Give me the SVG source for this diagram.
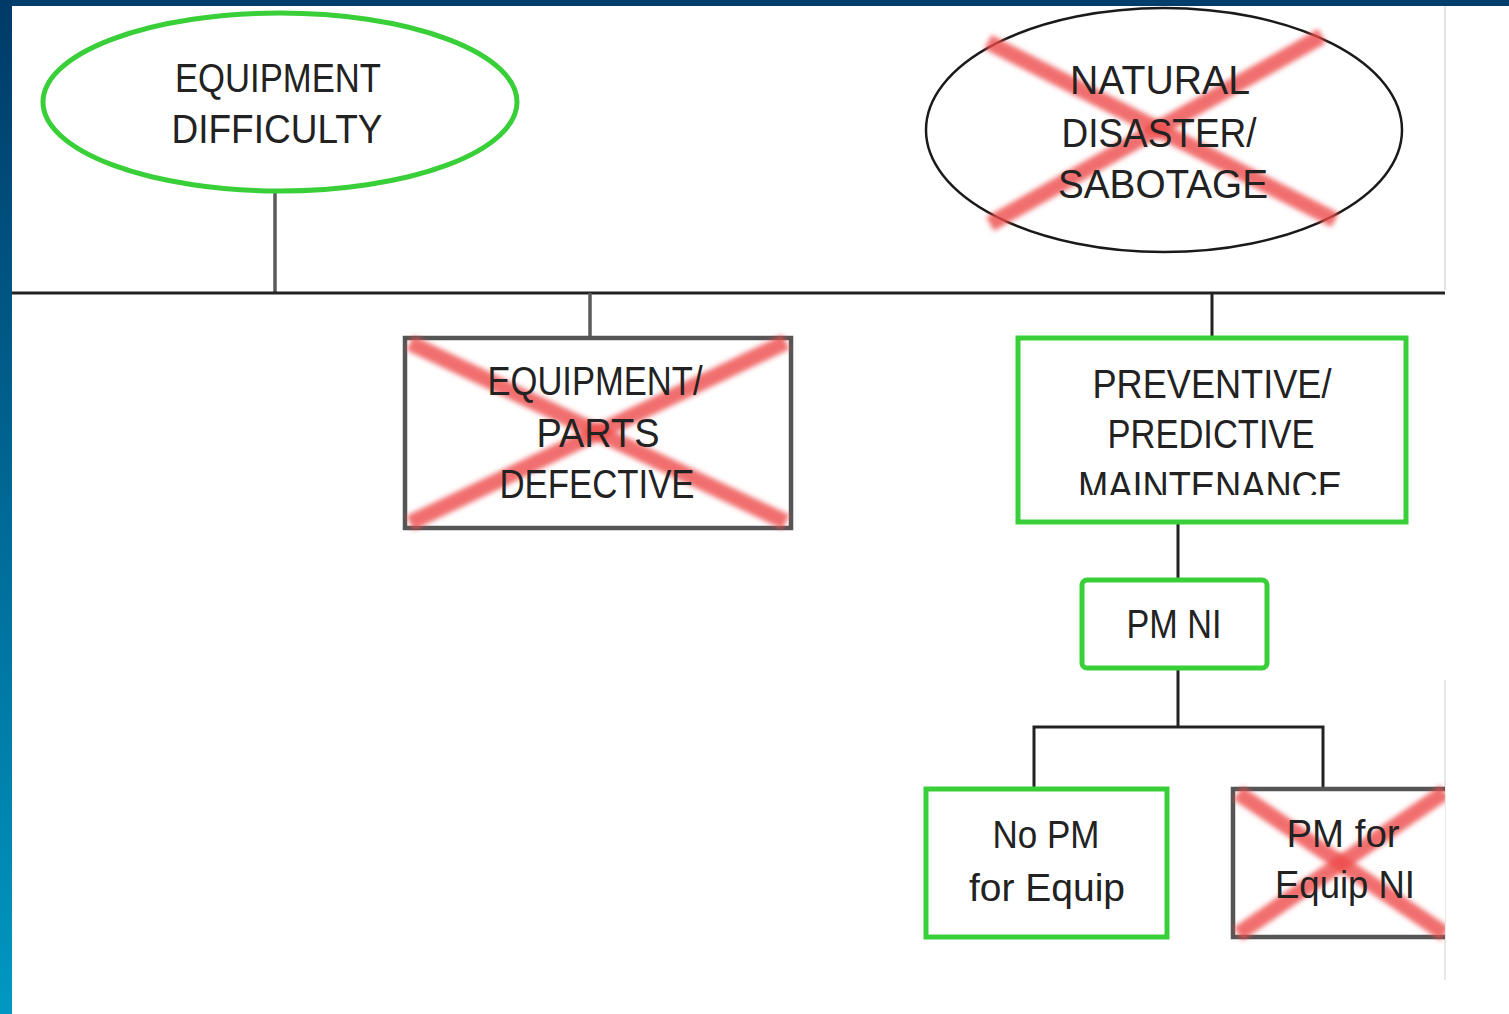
<svg xmlns="http://www.w3.org/2000/svg" width="1509" height="1014" viewBox="0 0 1509 1014">
  <style>
    .t { font-family: "Liberation Sans", Arial, sans-serif; font-size: 40px; fill: #222; text-anchor: middle; }
    .t2 { font-family: "Liberation Sans", Arial, sans-serif; font-size: 38px; fill: #222; text-anchor: middle; }
    .green { fill: #ffffff; stroke: #38cf38; stroke-width: 5; }
    .grey { fill: #ffffff; stroke: #555555; stroke-width: 4.5; }
    .blackoutline { fill: #ffffff; stroke: #1a1a1a; stroke-width: 2.5; }
    .conn { stroke: #222; stroke-width: 3; fill: none; }
    .conn-grey { stroke: #5a5a5a; stroke-width: 3.5; fill: none; }
    .cross { stroke: #ee4a4a; stroke-opacity: 0.8; stroke-width: 16; stroke-linecap: butt; fill: none; filter: url(#soft); }
  </style>
  <defs>
    <linearGradient id="sidebar" x1="0" y1="0" x2="0" y2="1">
      <stop offset="0" stop-color="#003a68"/>
      <stop offset="1" stop-color="#0098c2"/>
    </linearGradient>
    <filter id="soft" x="-20%" y="-20%" width="140%" height="140%">
      <feGaussianBlur stdDeviation="2.5"/>
    </filter>
    <clipPath id="clipMaint">
      <rect x="1020" y="340" width="385" height="155"/>
    </clipPath>
    <clipPath id="clipRight">
      <rect x="0" y="0" width="1445" height="1014"/>
    </clipPath>
  </defs>

  <rect x="0" y="0" width="1509" height="1014" fill="#ffffff"/>
  <line x1="1445" y1="6" x2="1445" y2="290" stroke="#e4e4e4" stroke-width="2"/>
  <line x1="1445" y1="680" x2="1445" y2="980" stroke="#e8e8e8" stroke-width="2"/>

  <g id="connectors">
    <line class="conn-grey" x1="275" y1="190" x2="275" y2="293"/>
    <line class="conn" x1="12" y1="293" x2="1445" y2="293"/>
    <line class="conn-grey" x1="590" y1="293" x2="590" y2="337"/>
    <line class="conn" x1="1212" y1="293" x2="1212" y2="338"/>
    <line class="conn" x1="1178" y1="523" x2="1178" y2="579"/>
    <line class="conn" x1="1178" y1="668" x2="1178" y2="727"/>
    <polyline class="conn" points="1034,788 1034,727 1323,727 1323,788"/>
  </g>

  <g id="node-equipment-difficulty">
    <ellipse class="green" cx="280" cy="102" rx="237" ry="89"/>
    <text class="t" x="278" y="92" textLength="206" lengthAdjust="spacingAndGlyphs">EQUIPMENT</text>
    <text class="t" x="277" y="143" textLength="211" lengthAdjust="spacingAndGlyphs">DIFFICULTY</text>
  </g>

  <g id="node-natural-disaster">
    <ellipse class="blackoutline" cx="1164" cy="130" rx="238" ry="122"/>
    <line class="cross" x1="988" y1="42" x2="1335" y2="220" stroke-width="20"/>
    <line class="cross" x1="1322" y1="36" x2="990" y2="224" stroke-width="20"/>
    <text class="t" x="1160" y="94" textLength="180" lengthAdjust="spacingAndGlyphs">NATURAL</text>
    <text class="t" x="1159" y="147" textLength="195" lengthAdjust="spacingAndGlyphs">DISASTER/</text>
    <text class="t" x="1163" y="198" textLength="210" lengthAdjust="spacingAndGlyphs">SABOTAGE</text>
  </g>

  <g id="node-equipment-parts-defective">
    <rect class="grey" x="405" y="338" width="386" height="190"/>
    <line class="cross" x1="410" y1="343" x2="786" y2="522"/>
    <line class="cross" x1="786" y1="342" x2="410" y2="523"/>
    <text class="t" x="595" y="395" textLength="215" lengthAdjust="spacingAndGlyphs">EQUIPMENT/</text>
    <text class="t" x="598" y="447" textLength="123" lengthAdjust="spacingAndGlyphs">PARTS</text>
    <text class="t" x="597" y="498" textLength="195" lengthAdjust="spacingAndGlyphs">DEFECTIVE</text>
  </g>

  <g id="node-preventive-maintenance">
    <rect class="green" x="1018" y="338" width="388" height="184"/>
    <text class="t" x="1212" y="398" textLength="239" lengthAdjust="spacingAndGlyphs">PREVENTIVE/</text>
    <text class="t" x="1211" y="448" textLength="207" lengthAdjust="spacingAndGlyphs">PREDICTIVE</text>
    <text class="t" x="1210" y="500" textLength="264" lengthAdjust="spacingAndGlyphs" clip-path="url(#clipMaint)">MAINTENANCE</text>
  </g>

  <g id="node-pm-ni">
    <rect class="green" x="1082" y="580" width="185" height="88" rx="5"/>
    <text class="t" x="1174" y="638" textLength="95" lengthAdjust="spacingAndGlyphs">PM NI</text>
  </g>

  <g id="node-no-pm">
    <rect class="green" x="926" y="789" width="241" height="148"/>
    <text class="t2" x="1046" y="848" textLength="107" lengthAdjust="spacingAndGlyphs">No PM</text>
    <text class="t2" x="1047" y="901" textLength="156" lengthAdjust="spacingAndGlyphs">for Equip</text>
  </g>

  <g id="node-pm-for-equip" clip-path="url(#clipRight)">
    <rect class="grey" x="1233" y="789" width="230" height="148"/>
    <line class="cross" x1="1238" y1="793" x2="1445" y2="934" stroke-width="12"/>
    <line class="cross" x1="1445" y1="792" x2="1238" y2="934" stroke-width="12"/>
    <text class="t2" x="1343" y="847" textLength="113" lengthAdjust="spacingAndGlyphs">PM for</text>
    <text class="t2" x="1345" y="898" textLength="140" lengthAdjust="spacingAndGlyphs">Equip NI</text>
  </g>

  <rect x="0" y="0" width="1509" height="6" fill="#003f6c"/>
  <rect x="0" y="0" width="12" height="1014" fill="url(#sidebar)"/>
</svg>
